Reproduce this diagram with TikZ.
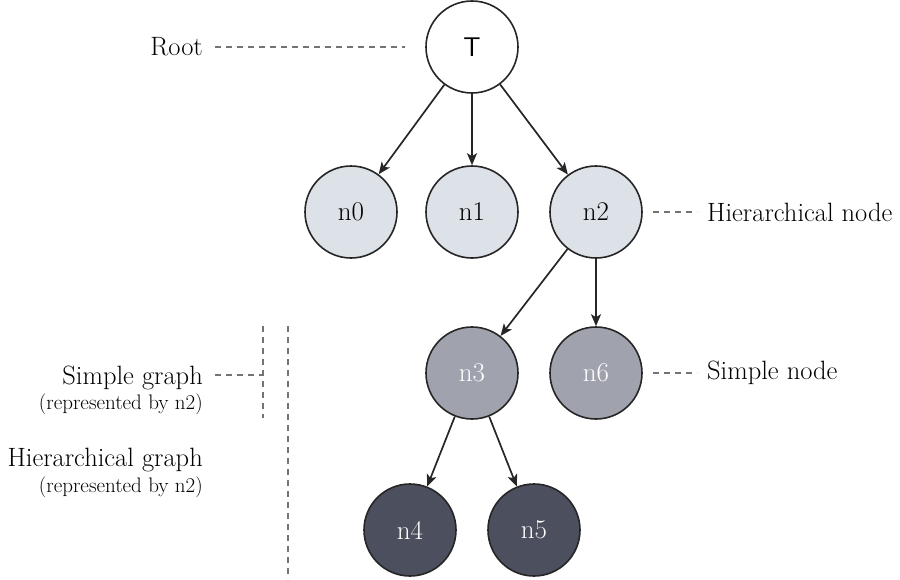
\documentclass[tikz,border=0pt]{standalone}
\usepackage{fontspec}
\usetikzlibrary{arrows.meta}
\begin{document}
\begin{tikzpicture}[x=1pt,y=-1pt,
  vtx/.style={circle,draw=black!85,line width=1.6pt,minimum size=92pt,inner sep=0pt,font=\fontsize{27}{29}\selectfont},
  lvl1/.style={vtx,fill=lightfill},
  lvl2/.style={vtx,fill=midfill,text=white},
  lvl3/.style={vtx,fill=darkfill,text=white},
  edge/.style={line width=1.7pt,draw=black!85,-{Stealth[length=12pt,width=10pt,inset=3pt]}},
  guide/.style={draw=black!55,line width=1.4pt,dash pattern=on 6pt off 5pt},
  lbl/.style={inner sep=0pt,font=\fontsize{26.5}{29}\selectfont},
  sub/.style={inner sep=0pt,font=\fontsize{21}{23}\selectfont}
]
\definecolor{lightfill}{HTML}{DDE1E8}
\definecolor{midfill}{HTML}{A0A3AD}
\definecolor{darkfill}{HTML}{4B4F5E}
\useasboundingbox (0,0) rectangle (900,579);
\node[vtx,fill=white,font=\fontsize{27}{29}\sffamily] (T) at (472,47) {T};
\node[lvl1] (n0) at (351,212) {n0};
\node[lvl1] (n1) at (472,212) {n1};
\node[lvl1] (n2) at (596,212) {n2};
\node[lvl2] (n3) at (472,373) {n3};
\node[lvl2] (n6) at (596,373) {n6};
\node[lvl3] (n4) at (410,530) {n4};
\node[lvl3] (n5) at (534,530) {n5};
\draw[edge] (T) -- (n0);
\draw[edge] (T) -- (n1);
\draw[edge] (T) -- (n2);
\draw[edge] (n2) -- (n3);
\draw[edge] (n2) -- (n6);
\draw[edge] (n3) -- (n4);
\draw[edge] (n3) -- (n5);
% labels
\node[lbl,anchor=east] (root) at (203,47) {Root};
\node[lbl,anchor=west] (hn) at (707,212) {Hierarchical node};
\node[lbl,anchor=west] (sn) at (707,373) {Simple node};
\node[lbl,anchor=east] (sg) at (203,378) {Simple graph};
\node[sub,anchor=east] (sgs) at (203,404) {(represented by n2)};
\node[lbl,anchor=east] (hg) at (203,460) {Hierarchical graph};
\node[sub,anchor=east] (hgs) at (203,487) {(represented by n2)};
% guides
\coordinate (rA) at (215,47); \coordinate (rB) at (405,47);
\draw[guide] (rA) -- (rB);
\coordinate (hA) at (653,212); \coordinate (hB) at (697,212);
\draw[guide] (hA) -- (hB);
\coordinate (sA) at (653,373); \coordinate (sB) at (697,373);
\draw[guide] (sA) -- (sB);
\coordinate (gA) at (215,375); \coordinate (gB) at (262,375);
\draw[guide] (gA) -- (gB);
\coordinate (v1a) at (263,326); \coordinate (v1b) at (263,418);
\draw[guide] (v1a) -- (v1b);
\coordinate (v2a) at (288,326); \coordinate (v2b) at (288,579);
\draw[guide] (v2a) -- (v2b);
\end{tikzpicture}
\end{document}
